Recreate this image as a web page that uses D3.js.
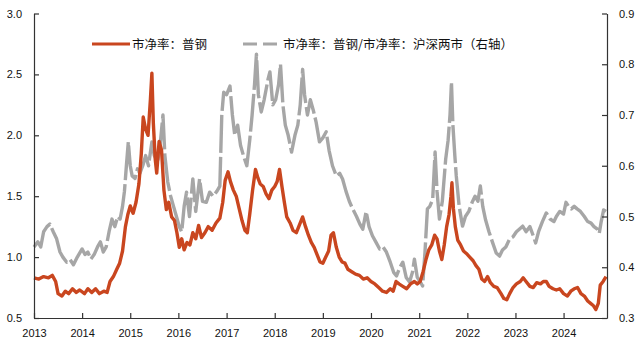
<!DOCTYPE html>
<html><head><meta charset="utf-8">
<script src="https://cdn.jsdelivr.net/npm/d3@7/dist/d3.min.js"></script>
<style>body{margin:0;background:#fff}svg{display:block}</style>
</head><body>
<svg id="c" width="637" height="347"></svg>
<script>
const redLabel = "市净率：普钢";
const grayLabel = "市净率：普钢/市净率：沪深两市（右轴）";
const yearTicks = [2013,2014,2015,2016,2017,2018,2019,2020,2021,2022,2023,2024];
const leftTicks = [0.5,1.0,1.5,2.0,2.5,3.0];
const rightTicks = [0.3,0.4,0.5,0.6,0.7,0.8,0.9];

const redT = [2013.00,2013.10,2013.20,2013.30,2013.38,2013.45,2013.50,2013.58,2013.65,2013.72,2013.80,2013.88,2013.95,2014.05,2014.12,2014.20,2014.28,2014.36,2014.45,2014.52,2014.58,2014.65,2014.72,2014.78,2014.84,2014.90,2014.95,2015.00,2015.06,2015.12,2015.18,2015.23,2015.27,2015.32,2015.37,2015.42,2015.45,2015.48,2015.52,2015.55,2015.60,2015.65,2015.70,2015.75,2015.80,2015.86,2015.92,2015.97,2016.02,2016.07,2016.12,2016.18,2016.24,2016.30,2016.36,2016.42,2016.48,2016.55,2016.62,2016.70,2016.78,2016.86,2016.92,2016.97,2017.03,2017.08,2017.14,2017.20,2017.26,2017.32,2017.38,2017.43,2017.48,2017.54,2017.60,2017.65,2017.70,2017.76,2017.82,2017.88,2017.94,2018.00,2018.05,2018.10,2018.15,2018.20,2018.25,2018.32,2018.38,2018.45,2018.52,2018.58,2018.64,2018.70,2018.76,2018.82,2018.88,2018.94,2019.00,2019.06,2019.12,2019.17,2019.22,2019.28,2019.34,2019.40,2019.46,2019.52,2019.60,2019.68,2019.76,2019.84,2019.92,2020.00,2020.08,2020.16,2020.24,2020.32,2020.40,2020.46,2020.52,2020.58,2020.66,2020.74,2020.82,2020.90,2020.96,2021.02,2021.08,2021.14,2021.20,2021.26,2021.32,2021.37,2021.42,2021.47,2021.52,2021.57,2021.62,2021.66,2021.68,2021.71,2021.75,2021.80,2021.86,2021.92,2021.98,2022.05,2022.12,2022.18,2022.24,2022.30,2022.36,2022.42,2022.48,2022.55,2022.62,2022.70,2022.76,2022.82,2022.88,2022.95,2023.02,2023.10,2023.16,2023.22,2023.30,2023.37,2023.44,2023.52,2023.58,2023.64,2023.70,2023.78,2023.85,2023.92,2024.00,2024.08,2024.15,2024.22,2024.29,2024.36,2024.43,2024.50,2024.56,2024.62,2024.67,2024.72,2024.76,2024.82,2024.88];
const redV = [0.83,0.82,0.84,0.83,0.85,0.80,0.70,0.68,0.72,0.70,0.74,0.71,0.73,0.70,0.74,0.71,0.74,0.70,0.72,0.71,0.80,0.84,0.90,0.95,1.05,1.25,1.35,1.42,1.36,1.45,1.60,1.85,2.15,2.05,2.00,2.30,2.51,2.10,1.80,1.69,1.95,1.88,1.55,1.39,1.45,1.33,1.30,1.20,1.08,1.15,1.06,1.12,1.10,1.20,1.15,1.26,1.16,1.20,1.25,1.22,1.28,1.32,1.45,1.63,1.70,1.62,1.55,1.50,1.40,1.30,1.22,1.20,1.35,1.55,1.72,1.65,1.60,1.58,1.52,1.48,1.55,1.58,1.62,1.72,1.58,1.45,1.33,1.28,1.22,1.20,1.27,1.33,1.25,1.18,1.12,1.08,1.02,0.96,0.95,1.00,1.05,1.18,1.20,1.08,1.00,0.96,0.95,0.90,0.88,0.86,0.85,0.82,0.83,0.80,0.78,0.75,0.72,0.71,0.74,0.72,0.80,0.78,0.76,0.74,0.78,0.80,0.78,0.80,0.88,0.98,1.06,1.10,1.18,1.15,1.05,0.98,1.10,1.25,1.35,1.50,1.61,1.40,1.25,1.14,1.10,1.05,1.03,1.00,0.97,0.93,0.90,0.82,0.80,0.84,0.79,0.76,0.75,0.70,0.66,0.65,0.70,0.75,0.78,0.80,0.83,0.80,0.76,0.75,0.79,0.78,0.80,0.80,0.76,0.74,0.73,0.74,0.70,0.68,0.72,0.74,0.75,0.70,0.68,0.64,0.62,0.60,0.57,0.62,0.77,0.80,0.84];

const grayT = [2013.00,2013.08,2013.14,2013.20,2013.27,2013.33,2013.40,2013.47,2013.54,2013.60,2013.68,2013.75,2013.82,2013.90,2014.00,2014.06,2014.12,2014.18,2014.25,2014.32,2014.38,2014.44,2014.50,2014.56,2014.62,2014.68,2014.74,2014.79,2014.84,2014.88,2014.92,2014.96,2015.00,2015.04,2015.10,2015.15,2015.20,2015.26,2015.32,2015.38,2015.45,2015.50,2015.57,2015.63,2015.68,2015.72,2015.78,2015.84,2015.90,2015.96,2016.02,2016.07,2016.12,2016.17,2016.23,2016.30,2016.36,2016.44,2016.50,2016.58,2016.65,2016.72,2016.80,2016.86,2016.90,2016.94,2017.00,2017.07,2017.12,2017.17,2017.23,2017.29,2017.35,2017.42,2017.48,2017.53,2017.58,2017.62,2017.66,2017.72,2017.78,2017.86,2017.90,2017.96,2018.02,2018.08,2018.12,2018.17,2018.22,2018.28,2018.35,2018.42,2018.48,2018.53,2018.58,2018.62,2018.68,2018.74,2018.80,2018.86,2018.93,2019.00,2019.07,2019.13,2019.20,2019.28,2019.35,2019.41,2019.48,2019.55,2019.62,2019.70,2019.77,2019.83,2019.90,2019.96,2020.03,2020.10,2020.18,2020.25,2020.32,2020.40,2020.47,2020.53,2020.60,2020.66,2020.73,2020.80,2020.86,2020.90,2020.96,2021.03,2021.07,2021.12,2021.17,2021.22,2021.28,2021.33,2021.37,2021.42,2021.48,2021.55,2021.60,2021.64,2021.67,2021.70,2021.74,2021.77,2021.83,2021.90,2021.96,2022.03,2022.10,2022.16,2022.22,2022.27,2022.32,2022.38,2022.45,2022.52,2022.60,2022.67,2022.73,2022.80,2022.88,2022.95,2023.02,2023.08,2023.15,2023.22,2023.30,2023.37,2023.42,2023.48,2023.56,2023.64,2023.72,2023.80,2023.85,2023.92,2024.00,2024.05,2024.10,2024.16,2024.22,2024.28,2024.35,2024.43,2024.50,2024.57,2024.63,2024.70,2024.74,2024.78,2024.83,2024.88];
const grayV = [0.44,0.45,0.44,0.47,0.48,0.485,0.47,0.456,0.43,0.42,0.41,0.415,0.405,0.42,0.436,0.425,0.43,0.416,0.425,0.44,0.45,0.43,0.44,0.47,0.495,0.48,0.50,0.495,0.52,0.55,0.60,0.647,0.60,0.58,0.575,0.594,0.585,0.60,0.62,0.60,0.647,0.62,0.607,0.65,0.70,0.62,0.568,0.54,0.52,0.50,0.48,0.47,0.52,0.548,0.50,0.574,0.51,0.574,0.53,0.528,0.548,0.54,0.55,0.56,0.70,0.745,0.74,0.757,0.70,0.66,0.68,0.64,0.62,0.60,0.65,0.70,0.76,0.82,0.74,0.706,0.73,0.77,0.785,0.72,0.73,0.76,0.80,0.72,0.68,0.66,0.627,0.66,0.68,0.72,0.79,0.74,0.70,0.73,0.71,0.686,0.647,0.655,0.667,0.63,0.60,0.58,0.585,0.574,0.55,0.53,0.515,0.50,0.485,0.475,0.51,0.48,0.462,0.45,0.436,0.44,0.43,0.41,0.39,0.383,0.40,0.41,0.38,0.371,0.39,0.416,0.38,0.37,0.363,0.43,0.515,0.52,0.534,0.627,0.55,0.495,0.53,0.613,0.65,0.70,0.765,0.68,0.62,0.58,0.52,0.481,0.50,0.51,0.528,0.54,0.53,0.56,0.52,0.493,0.47,0.45,0.428,0.422,0.434,0.44,0.456,0.46,0.47,0.475,0.481,0.47,0.48,0.462,0.448,0.47,0.49,0.507,0.495,0.49,0.50,0.51,0.505,0.528,0.52,0.515,0.52,0.515,0.51,0.50,0.49,0.487,0.48,0.475,0.467,0.49,0.513,0.51];

const RED = "#C9461F", GRAY = "#A6A6A6", AXIS = "#333";
const toDate = t => { const y = Math.floor(t); const s = new Date(y,0,1), e = new Date(y+1,0,1); return new Date(+s + (t-y)*(e-s)); };

const svg = d3.select("#c");
const L = 34, R = 607, T = 13.5, B = 318;
const x = d3.scaleTime().domain([new Date(2013,0,1), toDate(2024.9)]).range([L, R]);
const yL = d3.scaleLinear().domain([0.5, 3.0]).range([B, T]);
const yR = d3.scaleLinear().domain([0.3, 0.9]).range([B, T]);

const font = "'Liberation Sans', Arial, sans-serif";

// lines
const grayData = grayT.map((t,i)=>[toDate(t), grayV[i]]);
const redData = redT.map((t,i)=>[toDate(t), redV[i]]);
svg.append("path").datum(grayData)
  .attr("fill","none").attr("stroke",GRAY).attr("stroke-width",3.4)
  .attr("stroke-dasharray","38,4").attr("stroke-linejoin","round")
  .attr("d", d3.line().x(d=>x(d[0])).y(d=>yR(d[1])));
svg.append("path").datum(redData)
  .attr("fill","none").attr("stroke",RED).attr("stroke-width",3.4)
  .attr("stroke-linejoin","round")
  .attr("d", d3.line().x(d=>x(d[0])).y(d=>yL(d[1])));

// axes
const gx = svg.append("g").attr("transform",`translate(0,${B})`)
  .call(d3.axisBottom(x).tickValues(yearTicks.map(y=>new Date(y,0,1))).tickFormat(d3.timeFormat("%Y")).tickSizeInner(-5).tickSizeOuter(0).tickPadding(11));
const gl = svg.append("g").attr("transform",`translate(${L},0)`)
  .call(d3.axisLeft(yL).tickValues(leftTicks).tickFormat(d3.format(".1f")).tickSizeInner(-5).tickSizeOuter(0).tickPadding(12));
const gr = svg.append("g").attr("transform",`translate(${R},0)`)
  .call(d3.axisRight(yR).tickValues(rightTicks).tickFormat(d3.format(".1f")).tickSizeInner(-5).tickSizeOuter(0).tickPadding(12));
[gx,gl,gr].forEach(g=>{
  g.selectAll("path.domain").attr("stroke",AXIS).attr("stroke-width",1.2);
  g.selectAll("line").attr("stroke",AXIS).attr("stroke-width",1.2);
  g.selectAll("text").attr("fill","#111").style("font-family",font).style("font-size","11px");
});

// legend
const lg = svg.append("g");
lg.append("line").attr("x1",92).attr("x2",130).attr("y1",44).attr("y2",44).attr("stroke",RED).attr("stroke-width",3);
lg.append("text").attr("x",132).attr("y",48.5).text(redLabel)
  .style("font-family","'Noto Sans CJK SC', sans-serif").style("font-size","12.5px").attr("fill","#111");
lg.append("line").attr("x1",240).attr("x2",282).attr("y1",44).attr("y2",44).attr("stroke",GRAY).attr("stroke-width",3).attr("stroke-dasharray","14,6").attr("stroke-dashoffset",-3);
lg.append("text").attr("x",283).attr("y",48.5).text(grayLabel)
  .style("font-family","'Noto Sans CJK SC', sans-serif").style("font-size","12.5px").attr("fill","#111");
</script>
</body></html>
